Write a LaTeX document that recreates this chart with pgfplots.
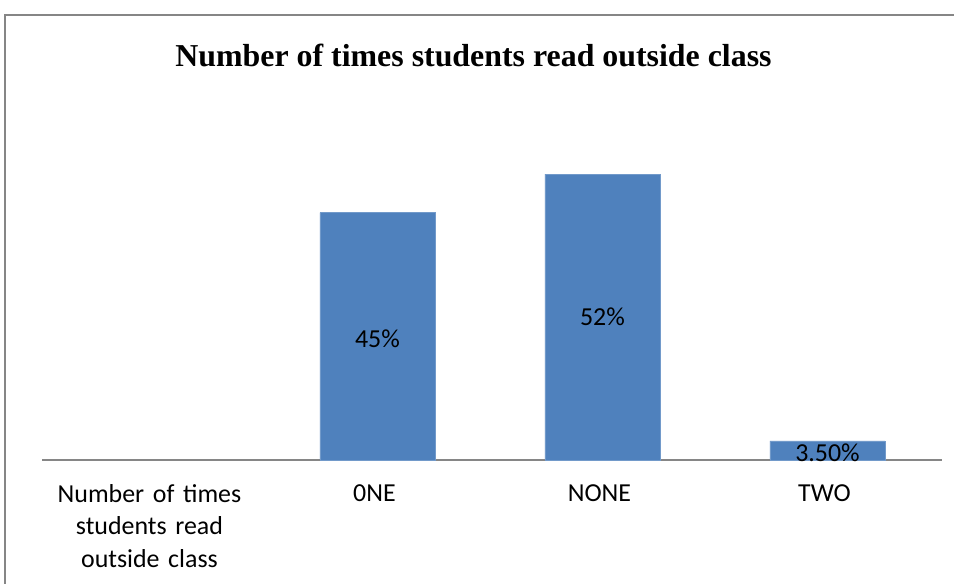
\documentclass[border=0pt]{standalone}
\usepackage{pgfplots}
\pgfplotsset{compat=1.18}
\usepackage{fontspec}
\setmainfont{Carlito}
\newfontfamily\titlefont{Liberation Serif}
\definecolor{barblue}{HTML}{4F81BD}
\definecolor{framegray}{HTML}{868686}
\begin{document}
\begin{tikzpicture}
\useasboundingbox (0,0) rectangle (954bp,584bp);
\draw[framegray, line width=1.5bp] (5bp,0) -- (5bp,569bp) -- (954bp,569bp);
\node[font=\titlefont\bfseries\fontsize{32}{38}\selectfont] at (473.5bp,529bp) {Number of times students read outside class};
\begin{axis}[
  at={(42bp,124bp)}, anchor=south west,
  scale only axis, width=900bp, height=330bp,
  xmin=-0.491, xmax=3.509, ymin=0, ymax=60,
  axis x line*=bottom, axis y line=none,
  x axis line style={framegray, line width=1.2bp, -},
  xtick={0,1,2,3},
  xticklabels={{Number of times\\students read\\outside class},0NE,NONE,TWO},
  major tick length=0pt,
  xticklabel style={font=\fontsize{26}{32.5}\selectfont, align=center, text width=220bp, yshift=-21bp, xshift=-3bp, text=black},
  ytick=\empty,
  clip=false,
]
\addplot[ybar, bar width=115bp, fill=barblue, draw=barblue!80!white] coordinates {(1,45) (2,52) (3,3.5)};
\addplot[only marks, mark=none, nodes near coords, point meta=explicit symbolic,
  every node near coord/.style={anchor=center, font=\fontsize{26}{30}\selectfont, text=black}]
  coordinates {(1,22) [45\%] (2,26) [52\%] (3,1.3) [3.50\%]};
\end{axis}
\end{tikzpicture}
\end{document}
